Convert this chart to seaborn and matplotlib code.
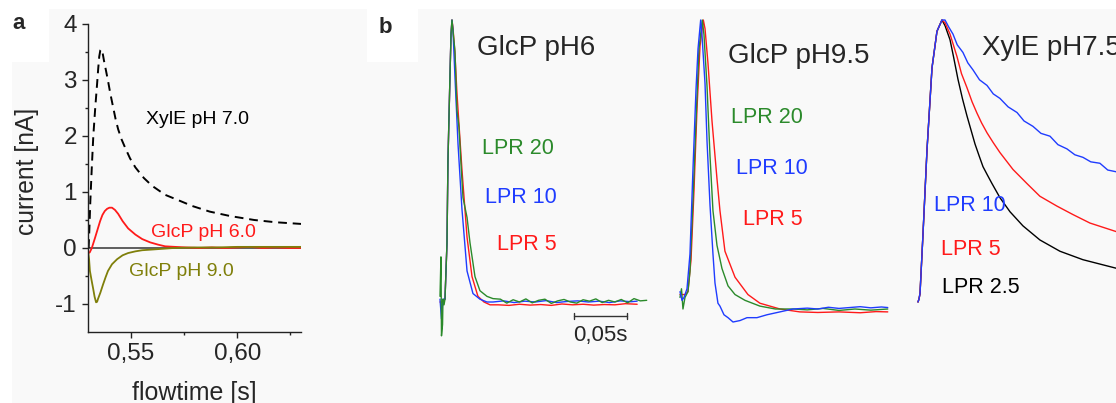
import matplotlib
matplotlib.use("Agg")
import matplotlib.pyplot as plt
from matplotlib.patches import Rectangle
import seaborn as sns

# ---------------- panel a data (flowtime [s], current [nA]) ----------------
a_xyle_t = [0.5300, 0.5303, 0.5308, 0.5315, 0.5322, 0.5331, 0.5340, 0.5345, 0.5350, 0.5355,
            0.5360, 0.5366, 0.5372, 0.5380, 0.5391, 0.5402, 0.5415, 0.5427, 0.5439, 0.5455,
            0.5472, 0.5495, 0.5520, 0.5560, 0.5599, 0.5660, 0.5731, 0.5788, 0.5870, 0.5967,
            0.6080, 0.6180, 0.6300]
a_xyle_i = [0.0, 0.3, 0.84, 1.45, 2.0, 2.5, 2.94, 3.2, 3.42, 3.53,
            3.55, 3.48, 3.35, 3.2, 2.99, 2.76, 2.52, 2.3, 2.12, 1.94,
            1.79, 1.60, 1.44, 1.25, 1.11, 0.95, 0.84, 0.75, 0.65, 0.57,
            0.50, 0.46, 0.43]

a_glcp6_t = [0.5297, 0.5305, 0.5315, 0.5330, 0.5342, 0.5354, 0.5365, 0.5376, 0.5387, 0.5398,
             0.5410, 0.5424, 0.5439, 0.5460, 0.5486, 0.5520, 0.5552, 0.5590, 0.5627, 0.5660,
             0.5707, 0.5760, 0.5820, 0.5880, 0.5940, 0.6000, 0.6060, 0.6120, 0.6180, 0.6240,
             0.6300]
a_glcp6_i = [-0.09, -0.08, 0.0, 0.18, 0.33, 0.48, 0.59, 0.66, 0.70, 0.72,
             0.72, 0.68, 0.61, 0.48, 0.35, 0.24, 0.16, 0.10, 0.06, 0.03,
             0.02, 0.01, 0.0, 0.01, 0.0, 0.01, 0.02, 0.0, 0.01, 0.0,
             0.0]

a_glcp9_t = [0.5297, 0.5302, 0.5306, 0.5314, 0.5321, 0.5328, 0.5335, 0.5340, 0.5344, 0.5355,
             0.5368, 0.5380, 0.5391, 0.5410, 0.5434, 0.5460, 0.5486, 0.5520, 0.5552, 0.5627,
             0.5700, 0.5800, 0.5900, 0.6000, 0.6100, 0.6200, 0.6300]
a_glcp9_i = [-0.05, -0.2, -0.41, -0.58, -0.72, -0.87, -0.97, -0.96, -0.91, -0.80,
             -0.65, -0.52, -0.41, -0.29, -0.20, -0.13, -0.09, -0.06, -0.04, -0.02,
             0.0, 0.01, 0.01, 0.02, 0.02, 0.02, 0.02]

a_yticks = [-1, 0, 1, 2, 3, 4]
a_ytick_labels = ["-1", "0", "1", "2", "3", "4"]
a_xticks = [0.55, 0.60]
a_xtick_labels = ["0,55", "0,60"]

# ---------------- panel b data (time [ms], normalised current) ----------------
# GlcP pH6
b1_g_t = [0, 0.9, 1.4, 2.4, 2.8, 3.8, 4.7, 6.6, 7.5, 9.4, 10.4, 11.3, 12.3, 14.1, 16.0, 17.9,
          19.8, 21.7, 25.5, 28.3, 33.0, 37.7, 44.3, 50.0,
          57, 63, 69, 75, 81, 87, 93, 99, 105, 111, 117, 123, 129, 135, 141, 147, 153, 159,
          165, 171, 177, 183, 189, 195]
b1_g_i = [0.02, 0.16, -0.12, -0.08, 0.01, -0.01, 0.01, 0.21, 0.50, 0.80, 0.95, 1.00, 0.96, 0.89, 0.68, 0.62,
          0.49, 0.37, 0.30, 0.21, 0.09, 0.04, 0.02, 0.012,
          0.01, -0.004, 0.008, 0.0, 0.011, -0.003, 0.006, 0.01, -0.005, 0.004, 0.009, 0.0, -0.004, 0.008,
          0.003, 0.011, -0.002, 0.006, 0.0, 0.009, -0.003, 0.012, 0.004, 0.006]
b1_b_t = [0, 1.4, 2.8, 4.7, 6.6, 7.5, 9.4, 10.4, 11.3, 12.3, 14.1, 17.0, 20.7, 25.5, 31.1, 37.7, 44.3,
          50, 60, 70, 80, 90, 100, 110, 120, 130, 140, 150, 160, 170, 180, 186]
b1_b_i = [0.01, -0.06, 0.01, 0.01, 0.21, 0.50, 0.80, 0.95, 1.0, 0.96, 0.80, 0.56, 0.33, 0.11, 0.03, 0.01, 0.0,
          0.0, 0.004, -0.002, 0.003, 0.0, 0.005, -0.002, 0.002, 0.004, 0.0, 0.003, -0.002, 0.004, 0.001, 0.003]
b1_r_t = [0, 2.8, 4.7, 6.6, 7.5, 9.4, 10.4, 11.3, 12.3, 14.1, 16.0, 20.7, 25.5, 30.2, 35.8, 41.5, 47.2,
          55, 65, 75, 85, 95, 105, 115, 125, 135, 145, 155, 165, 175, 186]
b1_r_i = [0.0, 0.0, 0.01, 0.21, 0.50, 0.80, 0.95, 1.0, 0.97, 0.88, 0.74, 0.47, 0.23, 0.09, 0.02, 0.0, -0.01,
          -0.01, -0.012, -0.008, -0.011, -0.009, -0.012, -0.007, -0.01, -0.008, -0.011, -0.009, -0.01, -0.006, -0.008]

# GlcP pH9.5
b2_b_t = [0, 1.9, 3.8, 6.6, 9.4, 12.3, 15.1, 17.0, 19.5, 20.7, 23.6, 25.5, 28.3, 31.1, 33.0, 35.8,
          37.7, 41.5, 45.3, 50.0, 56.6, 63.2, 72.6, 82.0, 94.3, 106.6,
          120, 130, 140, 150, 160, 170, 180, 190, 196]
b2_b_i = [0.06, 0.03, 0.04, 0.07, 0.19, 0.49, 0.76, 0.90, 1.0, 0.95, 0.78, 0.58, 0.36, 0.19, 0.09, 0.02,
          0.01, -0.02, -0.03, -0.045, -0.04, -0.03, -0.03, -0.02, -0.01, 0.0,
          0.003, 0.0, 0.006, 0.002, 0.005, 0.008, 0.004, 0.007, 0.005]
b2_g_t = [0, 1.4, 2.8, 4.7, 7.5, 9.4, 12.3, 15.1, 17.9, 21.0, 22.6, 25.5, 28.3, 31.1, 34.9, 39.6,
          45.3, 51.9, 61.3, 75.4, 90, 106.6, 120, 135, 150, 165, 180, 196]
b2_g_i = [0.04, 0.07, 0.0, 0.04, 0.06, 0.13, 0.38, 0.65, 0.90, 1.0, 0.95, 0.77, 0.53, 0.34, 0.22, 0.14,
          0.08, 0.05, 0.03, 0.01, 0.0, 0.0, -0.003, 0.002, -0.005, 0.0, -0.004, 0.0]
b2_r_t = [0, 4.7, 7.5, 10.4, 13.2, 16.0, 18.9, 22.0, 23.6, 26.4, 30.2, 34.9, 37.7, 42.4, 51.9, 64.1,
          75.4, 94.3, 113, 130, 150, 170, 185, 196]
b2_r_i = [0.05, 0.05, 0.06, 0.17, 0.41, 0.69, 0.91, 1.0, 0.97, 0.85, 0.65, 0.45, 0.34, 0.20, 0.11, 0.05,
          0.02, 0.0, -0.01, -0.012, -0.01, -0.013, -0.009, -0.01]

# XylE pH7.5
b3_rise_t = [0, 0.9, 1.9, 4.7, 8.5, 13.2, 17.9, 22.6]
b3_rise_i = [0.0, 0.01, 0.03, 0.24, 0.54, 0.83, 0.96, 1.0]
b3_k_t = [25.5, 30.2, 33.5, 37.7, 42.0, 46.2, 50.0, 53.8, 57.5, 61.3, 65.5, 69.8, 77.3, 86.8, 99.0,
          115.0, 133.9, 155.6, 186.7, 195.2]
b3_k_i = [0.98, 0.93, 0.87, 0.79, 0.72, 0.66, 0.61, 0.56, 0.52, 0.48, 0.45, 0.42, 0.37, 0.32, 0.27,
          0.22, 0.18, 0.15, 0.12, 0.115]
b3_r_t = [25.5, 30.2, 36.8, 41.0, 46.2, 51.0, 55.6, 60.0, 65.1, 71.0, 77.3, 89.6, 102.8, 115.0, 131.1,
          146.2, 162.2, 186.7, 195.2]
b3_r_i = [0.99, 0.95, 0.87, 0.81, 0.76, 0.71, 0.67, 0.635, 0.60, 0.565, 0.53, 0.47, 0.42, 0.375, 0.34,
          0.31, 0.28, 0.25, 0.24]
b3_b_t = [25.5, 29.0, 33.0, 37.0, 42.4, 47.0, 51.9, 58.0, 65.1, 71.0, 77.3, 85.0, 93.4, 100.0, 108.4,
          116.0, 124.5, 132.0, 140.5, 148.0, 155.6, 163.0, 171.6, 179.0, 186.7, 195.2]
b3_b_i = [1.0, 0.975, 0.95, 0.912, 0.885, 0.848, 0.823, 0.788, 0.768, 0.738, 0.722, 0.692, 0.672, 0.642, 0.623,
          0.598, 0.588, 0.558, 0.543, 0.522, 0.513, 0.497, 0.492, 0.468, 0.462, 0.45]

scale_bar_ms = 50  # 0,05 s

# ---------------- styling ----------------
GREEN = "#2b8a2b"
BLUE = "#1f3cff"
RED = "#ff1a1a"
OLIVE = "#7f7f0a"

sns.set_style("ticks")
plt.rcParams["font.family"] = ["Liberation Sans", "DejaVu Sans"]

W, H = 1116, 403
fig = plt.figure(figsize=(W / 100, H / 100), dpi=100, facecolor="white")


def fx(px):
    return px / W


def fy(py):
    return 1 - py / H


# background shading
fig.patches.append(Rectangle((fx(12), 0), 1 - fx(12), fy(9), transform=fig.transFigure,
                             facecolor="#f9f9f9", edgecolor="none", zorder=-10))
fig.patches.append(Rectangle((0, fy(62)), fx(49), 1 - fy(62), transform=fig.transFigure,
                             facecolor="white", edgecolor="none", zorder=-9))
fig.patches.append(Rectangle((fx(367), fy(62)), fx(418) - fx(367), 1 - fy(62), transform=fig.transFigure,
                             facecolor="white", edgecolor="none", zorder=-9))


def line(ax, t, i, color, lw=1.0, ls="-"):
    sns.lineplot(x=t, y=i, ax=ax, color=color, lw=lw, linestyle=ls, sort=False, estimator=None)


# ---------------- panel a ----------------
axA = fig.add_axes([fx(88), fy(332), fx(301) - fx(88), fy(24) - fy(332)])
axA.patch.set_alpha(0)
axA.axhline(0, color="#444444", lw=1.2, zorder=1)
line(axA, a_xyle_t, a_xyle_i, "black", lw=1.4, ls=(0, (4.5, 3)))
line(axA, a_glcp6_t, a_glcp6_i, RED, lw=1.3)
line(axA, a_glcp9_t, a_glcp9_i, OLIVE, lw=1.3)
axA.set_xlim(0.5297, 0.630)
axA.set_ylim(-1.5, 4)
for s in ["top", "right"]:
    axA.spines[s].set_visible(False)
for s in ["left", "bottom"]:
    axA.spines[s].set_color("#222222")
    axA.spines[s].set_linewidth(1.0)
axA.set_yticks(a_yticks)
axA.set_yticklabels(a_ytick_labels)
axA.set_yticks([-0.5, 0.5, 1.5, 2.5, 3.5], minor=True)
axA.set_xticks(a_xticks)
axA.set_xticklabels(a_xtick_labels)
axA.set_xticks([0.575, 0.625], minor=True)
axA.tick_params(which="major", length=4, width=1, direction="out", labelsize=17.5, pad=4, color="#222222")
axA.tick_params(which="minor", length=2.5, width=1, direction="out", color="#222222")
axA.set_ylabel("current [nA]", fontsize=17.7)
axA.yaxis.label.set_va("center")
axA.yaxis.set_label_coords((27 - 88) / 213, (332 - 171.5) / 308)
axA.set_xlabel("flowtime [s]", fontsize=18)
axA.xaxis.label.set_va("center")
axA.xaxis.set_label_coords((194 - 88) / 213, (332 - 393) / 308)

fig.text(fx(197), fy(124), "XylE pH 7.0", fontsize=14, color="black", ha="center", va="baseline")
fig.text(fx(203), fy(237), "GlcP pH 6.0", fontsize=14, color=RED, ha="center", va="baseline")
fig.text(fx(181), fy(276), "GlcP pH 9.0", fontsize=14, color=OLIVE, ha="center", va="baseline")
fig.text(fx(12.5), fy(29), "a", fontsize=16, fontweight="bold", ha="left", va="baseline")
fig.text(fx(378.5), fy(33), "b", fontsize=16, fontweight="bold", ha="left", va="baseline")

# ---------------- panel b ----------------
MS_PER_PX = 50 / 53


def b_axes(px0, px1, t0px, base, rng):
    ax = fig.add_axes([fx(px0), 0, fx(px1) - fx(px0), 1])
    ax.axis("off")
    return ax


def b_limits(ax, px0, px1, t0px, base, rng):
    ax.set_xlim((px0 - t0px) * MS_PER_PX, (px1 - t0px) * MS_PER_PX)
    ax.set_ylim((base - H) / rng, base / rng)


ax1 = b_axes(430, 660, 440, 302, 282)
line(ax1, b1_r_t, b1_r_i, RED, lw=1.0)
line(ax1, b1_b_t, b1_b_i, BLUE, lw=1.0)
line(ax1, b1_g_t, b1_g_i, GREEN, lw=1.0)
b_limits(ax1, 430, 660, 440, 302, 282)
# scale bar 0,05 s
sb_y = (302 - 316) / 282
sb_x0 = (574 - 440) * MS_PER_PX
ax1.plot([sb_x0, sb_x0 + scale_bar_ms], [sb_y, sb_y], color="#333333", lw=1.0)
for xx in (sb_x0, sb_x0 + scale_bar_ms):
    ax1.plot([xx, xx], [sb_y - 0.011, sb_y + 0.011], color="#333333", lw=1.0)
b_limits(ax1, 430, 660, 440, 302, 282)
fig.text(fx(600), fy(341), "0,05s", fontsize=16, ha="center", va="baseline")

ax2 = b_axes(670, 900, 680, 309, 289)
line(ax2, b2_r_t, b2_r_i, RED, lw=1.0)
line(ax2, b2_g_t, b2_g_i, GREEN, lw=1.0)
line(ax2, b2_b_t, b2_b_i, BLUE, lw=1.0)
b_limits(ax2, 670, 900, 680, 309, 289)

ax3 = b_axes(905, 1116, 918, 302, 282)
line(ax3, b3_rise_t + b3_k_t, b3_rise_i + b3_k_i, "black", lw=1.0)
line(ax3, b3_rise_t + b3_r_t, b3_rise_i + b3_r_i, RED, lw=1.0)
line(ax3, b3_rise_t + b3_b_t, b3_rise_i + b3_b_i, BLUE, lw=1.0)
b_limits(ax3, 905, 1116, 918, 302, 282)

fig.text(fx(477), fy(55), "GlcP pH6", fontsize=20, ha="left", va="baseline")
fig.text(fx(728), fy(63), "GlcP pH9.5", fontsize=20, ha="left", va="baseline")
fig.text(fx(982), fy(55), "XylE pH7.5", fontsize=20, ha="left", va="baseline")

fig.text(fx(482), fy(154), "LPR 20", fontsize=15.5, color=GREEN, ha="left", va="baseline")
fig.text(fx(485), fy(203), "LPR 10", fontsize=15.5, color=BLUE, ha="left", va="baseline")
fig.text(fx(497), fy(250), "LPR 5", fontsize=15.5, color=RED, ha="left", va="baseline")

fig.text(fx(731), fy(123), "LPR 20", fontsize=15.5, color=GREEN, ha="left", va="baseline")
fig.text(fx(736), fy(174), "LPR 10", fontsize=15.5, color=BLUE, ha="left", va="baseline")
fig.text(fx(743), fy(225), "LPR 5", fontsize=15.5, color=RED, ha="left", va="baseline")

fig.text(fx(934), fy(211), "LPR 10", fontsize=15.5, color=BLUE, ha="left", va="baseline")
fig.text(fx(941), fy(255), "LPR 5", fontsize=15.5, color=RED, ha="left", va="baseline")
fig.text(fx(942), fy(293), "LPR 2.5", fontsize=15.5, color="black", ha="left", va="baseline")

fig.savefig("out.png", dpi=100, facecolor="white")
